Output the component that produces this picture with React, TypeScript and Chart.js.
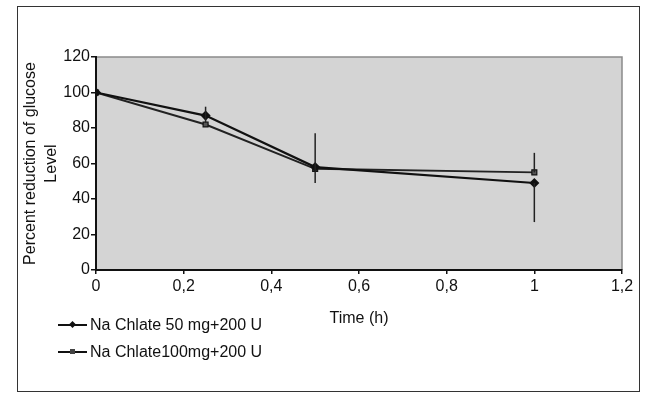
import React, { useEffect, useRef } from "react";
import { Chart, registerables } from "chart.js";

Chart.register(...registerables);

const times = [0, 0.25, 0.5, 1];
const series1Label = "Na Chlate 50 mg+200 U";
const series2Label = "Na Chlate100 mg+200 U";
const series1 = [100, 87, 58, 49];
const series1ErrUp = [0, 5, 19, 0];
const series1ErrDown = [0, 4, 9, 22];
const series2 = [100, 82, 57, 55];
const series2ErrUp = [0, 0, 0, 11];
const series2ErrDown = [0, 0, 0, 0];
const xTickLabels = ["0", "0,2", "0,4", "0,6", "0,8", "1", "1,2"];
const yTickLabels = ["0", "20", "40", "60", "80", "100", "120"];
const yTitle = ["Percent reduction of glucose", "Level"];
const xTitle = "Time (h)";

const FONT = "Arial, 'Liberation Sans', sans-serif";

const bgPlugin = {
  id: "plotBg",
  beforeDraw(chart: any) {
    const { ctx, chartArea: a } = chart;
    ctx.save();
    ctx.fillStyle = "#d4d4d4";
    ctx.fillRect(a.left, a.top, a.right - a.left, a.bottom - a.top);
    ctx.strokeStyle = "#8a8a8a";
    ctx.lineWidth = 1.5;
    ctx.beginPath();
    ctx.moveTo(a.left, a.top);
    ctx.lineTo(a.right, a.top);
    ctx.lineTo(a.right, a.bottom);
    ctx.stroke();
    ctx.restore();
  },
};

const errPlugin = {
  id: "errBars",
  afterDatasetsDraw(chart: any) {
    const { ctx, scales } = chart;
    const sets = [
      [series1, series1ErrUp, series1ErrDown],
      [series2, series2ErrUp, series2ErrDown],
    ];
    ctx.save();
    ctx.strokeStyle = "#222";
    ctx.lineWidth = 1.5;
    sets.forEach(([vals, up, down]) => {
      vals.forEach((v: number, i: number) => {
        if (!up[i] && !down[i]) return;
        const x = scales.x.getPixelForValue(times[i]);
        ctx.beginPath();
        ctx.moveTo(x, scales.y.getPixelForValue(v + up[i]));
        ctx.lineTo(x, scales.y.getPixelForValue(v - down[i]));
        ctx.stroke();
      });
    });
    ctx.restore();
  },
};

export default function App() {
  const ref = useRef<HTMLCanvasElement | null>(null);
  useEffect(() => {
    if (!ref.current) return;
    const chart = new Chart(ref.current, {
      type: "line",
      data: {
        datasets: [
          {
            label: series1Label,
            data: times.map((t, i) => ({ x: t, y: series1[i] })),
            borderColor: "#111",
            borderWidth: 2.2,
            pointStyle: "rectRot",
            pointRadius: 3.5,
            pointBackgroundColor: "#111",
            pointBorderColor: "#111",
            tension: 0,
          },
          {
            label: series2Label,
            data: times.map((t, i) => ({ x: t, y: series2[i] })),
            borderColor: "#222",
            borderWidth: 2,
            pointStyle: "rect",
            pointRadius: 3.5,
            pointBackgroundColor: "#555",
            pointBorderColor: "#111",
            pointBorderWidth: 1.2,
            tension: 0,
          },
        ],
      },
      options: {
        responsive: false,
        animation: false,
        layout: { padding: { left: 0, right: 25, top: 57, bottom: 0 } },
        plugins: { legend: { display: false }, tooltip: { enabled: false } },
        scales: {
          x: {
            type: "linear",
            min: 0,
            max: 1.2,
            afterFit: (s: any) => {
              s.height = 128;
            },
            ticks: {
              stepSize: 0.2,
              padding: 3,
              color: "#111",
              font: { family: FONT, size: 16 },
              callback: (_v: any, i: number) => xTickLabels[i],
            },
            grid: { display: true, drawOnChartArea: false, tickLength: 4, color: "#111", lineWidth: 1.5 },
            border: { color: "#111", width: 2 },
            title: {
              display: true,
              text: xTitle,
              color: "#111",
              font: { family: FONT, size: 16 },
              padding: { top: 0, bottom: 70 },
            },
          },
          y: {
            min: 0,
            max: 120,
            afterFit: (s: any) => {
              s.width = 96;
            },
            ticks: {
              stepSize: 20,
              padding: 1,
              color: "#111",
              font: { family: FONT, size: 16 },
              callback: (_v: any, i: number) => yTickLabels[i],
            },
            grid: { display: true, drawOnChartArea: false, tickLength: 5, color: "#111", lineWidth: 1.5 },
            border: { color: "#111", width: 2 },
            title: {
              display: true,
              text: yTitle,
              color: "#111",
              font: { family: FONT, size: 16, lineHeight: 1.3 },
              padding: { top: 20, bottom: 0 },
            },
          },
        },
      },
      plugins: [bgPlugin, errPlugin],
    });
    return () => chart.destroy();
  }, []);

  const legendRow = (top: number, label: string, square: boolean) => (
    <div style={{ position: "absolute", left: 58, top: top - 10, height: 20, display: "flex", alignItems: "center" }}>
      <div style={{ position: "relative", width: 29, height: 20 }}>
        <div style={{ position: "absolute", left: 0, top: 9, width: 29, height: 2, background: "#111" }} />
        <div
          style={{
            position: "absolute",
            left: 12,
            top: 7,
            width: 5,
            height: 5,
            background: square ? "#444" : "#111",
            transform: square ? "none" : "rotate(45deg)",
          }}
        />
      </div>
      <span style={{ marginLeft: 3, font: `16px ${FONT}`, color: "#111", whiteSpace: "pre" }}>{label}</span>
    </div>
  );

  return (
    <div style={{ position: "absolute", left: 0, top: 0, width: 647, height: 398, background: "#fff" }}>
      <canvas ref={ref} width={647} height={398} style={{ position: "absolute", left: 0, top: 0, display: "block" }} />
      <div
        style={{
          position: "absolute",
          left: 17,
          top: 6,
          width: 621,
          height: 384,
          border: "1.5px solid #333",
          pointerEvents: "none",
        }}
      />
      {legendRow(325, series1Label, false)}
      {legendRow(352, "Na Chlate100mg+200 U", true)}
    </div>
  );
}
